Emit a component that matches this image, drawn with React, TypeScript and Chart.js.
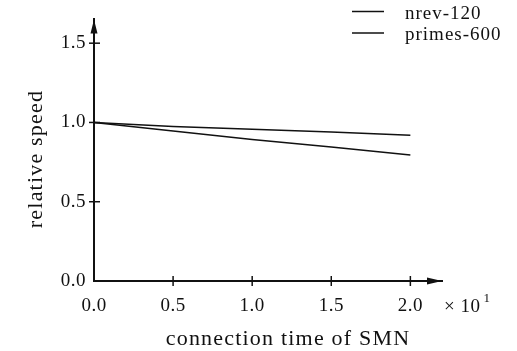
import React, { useEffect, useRef } from "react";
import { Chart, registerables } from "chart.js";

Chart.register(...registerables);

// ---- data ----
const xValues = [0, 0.5, 1.0, 1.5, 2.0];
const nrev120 = [1.0, 0.975, 0.957, 0.94, 0.92];
const primes600 = [1.0, 0.946, 0.892, 0.845, 0.795];
const seriesLabels = ["nrev-120", "primes-600"];
const xTickValues = [0, 0.5, 1.0, 1.5, 2.0];
const yTickValues = [0, 0.5, 1.0, 1.5];
const xTitle = "connection time of SMN";
const yTitle = "relative speed";
const xMultiplier = "\u00d7 10";
const xExponent = "1";

const FONT = '"Liberation Serif", "Times New Roman", serif';
const INK = "#111111";

const decorPlugin = {
  id: "decor",
  beforeDraw(chart: any) {
    (chart.ctx as any).letterSpacing = "0.5px";
  },
  afterDraw(chart: any) {
    const { ctx, chartArea, scales } = chart;
    const xs = scales.x;
    const ys = scales.y;
    const { left, right, top, bottom } = chartArea;
    ctx.save();
    ctx.strokeStyle = INK;
    ctx.fillStyle = INK;
    ctx.setLineDash([]);
    // tick marks crossing the axes
    ctx.lineWidth = 1.5;
    xs.ticks.forEach((t: any) => {
      if (t.value === 0) return;
      const px = xs.getPixelForValue(t.value);
      ctx.beginPath();
      ctx.moveTo(px, bottom - 5);
      ctx.lineTo(px, bottom + 5);
      ctx.stroke();
    });
    ys.ticks.forEach((t: any) => {
      if (t.value === 0) return;
      const py = ys.getPixelForValue(t.value);
      ctx.beginPath();
      ctx.moveTo(left - 5, py);
      ctx.lineTo(left + 6, py);
      ctx.stroke();
    });
    // arrow heads
    ctx.beginPath();
    ctx.moveTo(left, top);
    ctx.lineTo(left - 3.5, top + 14);
    ctx.lineTo(left + 3.5, top + 14);
    ctx.closePath();
    ctx.fill();
    ctx.beginPath();
    ctx.moveTo(right, bottom);
    ctx.lineTo(right - 15, bottom - 3.5);
    ctx.lineTo(right - 15, bottom + 3.5);
    ctx.closePath();
    ctx.fill();

    // legend
    (ctx as any).letterSpacing = "1px";
    ctx.font = `19px ${FONT}`;
    ctx.textAlign = "left";
    ctx.textBaseline = "alphabetic";
    chart.data.datasets.forEach((ds: any, i: number) => {
      const ly = 11.5 + i * 21.5;
      ctx.strokeStyle = ds.borderColor;
      ctx.lineWidth = ds.borderWidth;
      ctx.setLineDash(ds.borderDash || []);
      ctx.beginPath();
      ctx.moveTo(352, ly);
      ctx.lineTo(384, ly);
      ctx.stroke();
      ctx.setLineDash([]);
      ctx.fillStyle = INK;
      ctx.fillText(ds.label, 405, ly + 7);
    });

    // axis titles
    ctx.fillStyle = INK;
    ctx.font = `22px ${FONT}`;
    (ctx as any).letterSpacing = "1.2px";
    ctx.textAlign = "center";
    ctx.textBaseline = "alphabetic";
    ctx.fillText(xTitle, 288, 345);
    ctx.save();
    ctx.translate(42, 159);
    ctx.rotate(-Math.PI / 2);
    ctx.fillText(yTitle, 0, 0);
    ctx.restore();

    // x multiplier
    (ctx as any).letterSpacing = "0.5px";
    ctx.textAlign = "left";
    ctx.font = `19px ${FONT}`;
    ctx.fillText(xMultiplier, 444, 312);
    const w = ctx.measureText(xMultiplier).width;
    ctx.font = `13px ${FONT}`;
    ctx.fillText(xExponent, 444 + w + 3, 302);
    ctx.restore();
  },
};

export default function App() {
  const ref = useRef<HTMLCanvasElement | null>(null);
  useEffect(() => {
    if (!ref.current) return;
    const chart = new Chart(ref.current, {
      type: "line",
      data: {
        datasets: [
          {
            label: seriesLabels[0],
            data: xValues.map((x, i) => ({ x, y: nrev120[i] })),
            borderColor: INK,
            borderWidth: 1.5,
            pointRadius: 0,
            tension: 0,
            fill: false,
          },
          {
            label: seriesLabels[1],
            data: xValues.map((x, i) => ({ x, y: primes600[i] })),
            borderColor: INK,
            borderWidth: 1.5,
            pointRadius: 0,
            tension: 0,
            fill: false,
          },
        ],
      },
      options: {
        responsive: false,
        animation: false,
        layout: { padding: { left: 0, top: 5, right: 75, bottom: 0 } },
        plugins: {
          legend: { display: false },
          tooltip: { enabled: false },
        },
        scales: {
          x: {
            type: "linear",
            min: 0,
            max: 2.2,
            grid: { display: false, drawTicks: false },
            border: { display: true, color: INK, width: 2 },
            afterBuildTicks: (scale: any) => {
              scale.ticks = xTickValues.map((v) => ({ value: v }));
            },
            afterFit: (scale: any) => {
              scale.height = 70;
            },
            ticks: {
              padding: 14,
              color: INK,
              font: { family: FONT, size: 19 },
              callback: (v: any) => Number(v).toFixed(1),
              maxRotation: 0,
            },
          },
          y: {
            type: "linear",
            min: 0,
            max: 1.65,
            grid: { display: false, drawTicks: false },
            border: { display: true, color: INK, width: 2 },
            afterBuildTicks: (scale: any) => {
              scale.ticks = yTickValues.map((v) => ({ value: v }));
            },
            afterFit: (scale: any) => {
              scale.width = 94;
            },
            ticks: {
              padding: 8,
              color: INK,
              font: { family: FONT, size: 19 },
              callback: (v: any) => Number(v).toFixed(1),
            },
          },
        },
      },
      plugins: [decorPlugin],
    } as any);
    return () => chart.destroy();
  }, []);
  return (
    <div style={{ position: "absolute", left: 0, top: 0, width: 517, height: 351, background: "#fff" }}>
      <canvas ref={ref} width={517} height={351} style={{ display: "block" }} />
    </div>
  );
}
